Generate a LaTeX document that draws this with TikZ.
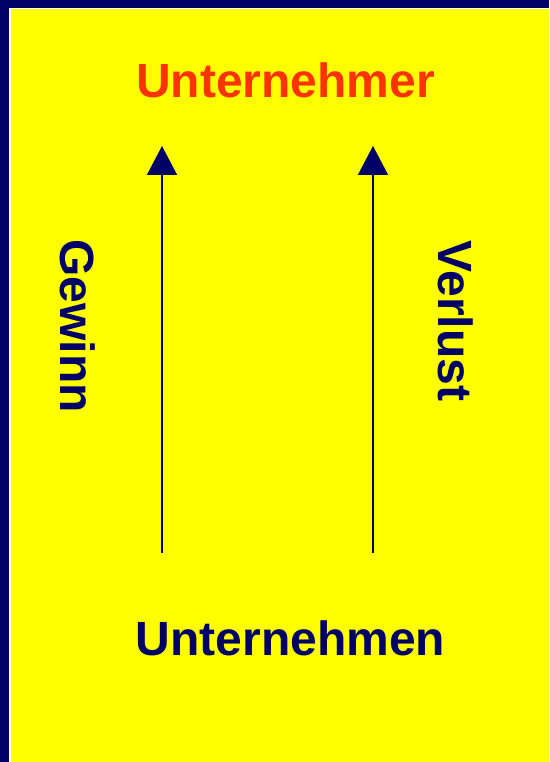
\documentclass[tikz,border=0pt]{standalone}
\usepackage{fontspec}
\setmainfont{Liberation Sans}
\usepackage{tikz}
\usetikzlibrary{arrows.meta,positioning,calc}
\definecolor{framecolor}{RGB}{0,0,102}
\definecolor{fieldcolor}{RGB}{255,255,0}
\definecolor{ownercolor}{RGB}{255,51,0}

\begin{document}
\begin{tikzpicture}[x=1pt,y=-1pt,lbl/.style={font=\fontsize{48}{50}\selectfont\bfseries,inner sep=0pt,anchor=base},arr/.style={-{Triangle[width=30pt,length=29pt]},line width=1.6pt,draw=framecolor}]
\fill[framecolor](0,0) rectangle (549,762); \fill[white](9,8) rectangle (549,762); \fill[fieldcolor](10.5,9.5) rectangle (549,762);
\useasboundingbox (0,0) rectangle (549,762);
\node[lbl,text=ownercolor](owner) at (285.5,98){Unternehmer};
\node[lbl,text=framecolor](firm) at (290.5,655){Unternehmen};
\node[lbl,text=framecolor,rotate=-90](gain) at (60,326){Gewinn};
\node[lbl,text=framecolor,rotate=-90](loss) at (438,321){Verlust};
\coordinate (g0) at (162,553); \coordinate (g1) at (162,146); \coordinate (l0) at (373,553); \coordinate (l1) at (373,146);
\draw[arr](g0)--(g1); \draw[arr](l0)--(l1);
\end{tikzpicture}
\end{document}
